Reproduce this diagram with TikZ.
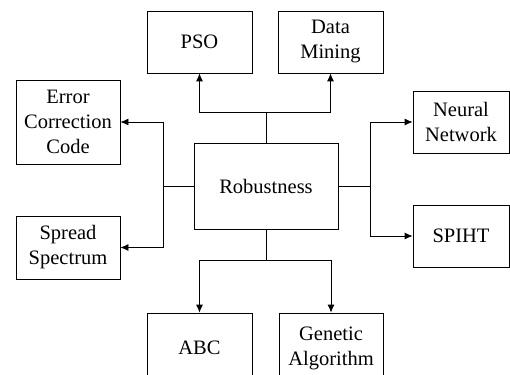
\documentclass[tikz,border=0pt]{standalone}
\usepackage{fontspec}
\setmainfont{Liberation Serif}
\usetikzlibrary{arrows.meta}
\begin{document}
\begin{tikzpicture}[x=1pt,y=-1pt,line width=0.8pt,
  box/.style={draw, align=center, inner sep=0pt,
    font=\fontsize{20.5}{25}\selectfont},
  arr/.style={-{Latex[length=8pt,width=7pt]}}]
\useasboundingbox (0,0) rectangle (510,374);
\clip (0,0) rectangle (510,374);
\node[box, minimum width=105pt, minimum height=62pt] (pso) at (199.5,42) {PSO};
\node[box, minimum width=105pt, minimum height=62pt] (dm) at (330.5,42) {Data\\Mining};
\node[box, minimum width=104pt, minimum height=84pt] (ecc) at (68,122) {Error\\Correction\\Code};
\node[box, minimum width=104pt, minimum height=63pt] (ss) at (68,247.5) {Spread\\Spectrum};
\node[box, minimum width=144pt, minimum height=86pt] (rob) at (266,186) {Robustness};
\node[box, minimum width=96pt, minimum height=62pt] (nn) at (461,122) {Neural\\Network};
\node[box, minimum width=96pt, minimum height=62pt] (spiht) at (461,236) {SPIHT};
\node[box, minimum width=105pt, minimum height=70pt] (abc) at (199.5,348) {ABC};
\node[box, minimum width=104pt, minimum height=70pt] (ga) at (331,348) {Genetic\\Algorithm};
\coordinate (jt) at (266,112);
\coordinate (jl) at (163,186);
\coordinate (jr) at (370,186);
\coordinate (jb) at (266,260);
\draw (rob.north) -- (jt);
\draw[arr] (jt) -| (pso.south);
\draw[arr] (jt) -| (dm.south);
\draw (rob.west) -- (jl);
\draw[arr] (jl) |- (ecc.east);
\draw[arr] (jl) |- (ss.east);
\draw (rob.east) -- (jr);
\draw[arr] (jr) |- (nn.west);
\draw[arr] (jr) |- (spiht.west);
\draw (rob.south) -- (jb);
\draw[arr] (jb) -| (abc.north);
\draw[arr] (jb) -| (ga.north);
\end{tikzpicture}
\end{document}
